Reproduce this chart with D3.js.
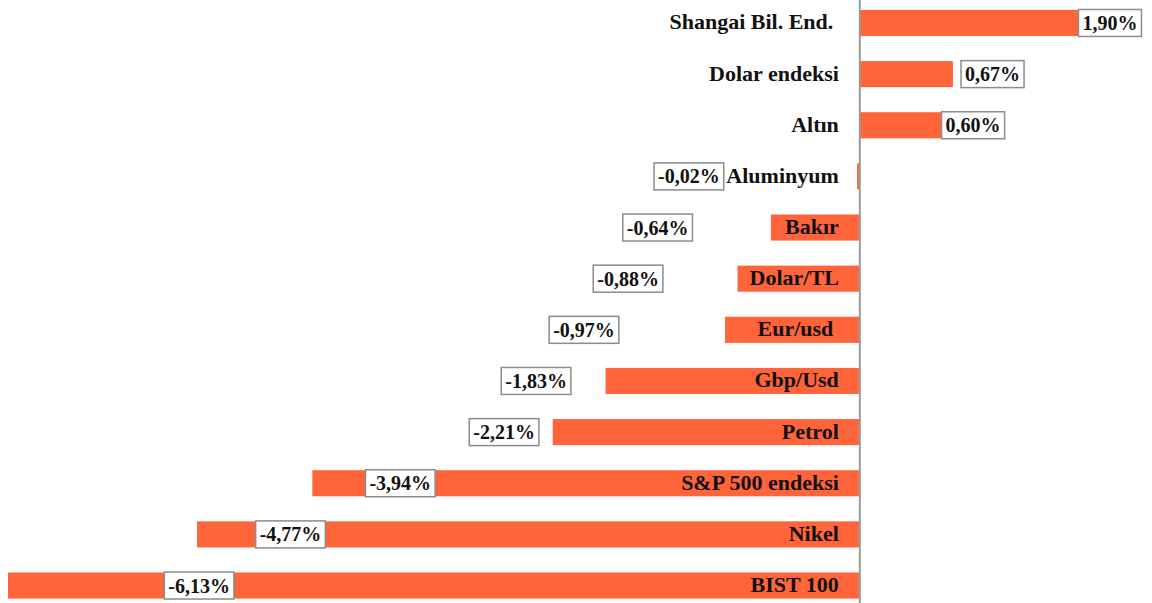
<!DOCTYPE html>
<html>
<head>
<meta charset="utf-8">
<script src="https://cdn.jsdelivr.net/npm/d3@7"></script>
<style>
  body { margin: 0; background: #fff; }
  svg { display: block; }
</style>
</head>
<body>
<svg id="chart"></svg>
<script>
// categories top to bottom
const categories = ["Shangai Bil. End.\u00a0", "Dolar endeksi", "Altın", "Aluminyum", "Bakır", "Dolar/TL",
  "Eur/usd\u00a0", "Gbp/Usd", "Petrol", "S&P 500 endeksi", "Nikel", "BIST 100"];
const values = [1.90, 0.67, 0.60, -0.02, -0.64, -0.88, -0.97, -1.83, -2.21, -3.94, -4.77, -6.13];
const valueLabels = ["1,90%", "0,67%", "0,60%", "-0,02%", "-0,64%", "-0,88%", "-0,97%", "-1,83%", "-2,21%", "-3,94%", "-4,77%", "-6,13%"];
// where the data labels were dragged to (in % units, label centre)
const labelAt = [1.80, 0.955, 0.815, -1.23, -1.455, -1.668, -1.985, -2.33, -2.56, -3.307, -4.097, -4.755];

class DivergingBars {

  constructor(_config) {
    this.config = {
      parentElement: _config.parentElement,
      containerWidth: _config.containerWidth || 1152,
      containerHeight: _config.containerHeight || 603
    }
    this.initVis();
  }

  initVis() {
    let vis = this;

    vis.svg = d3.select(vis.config.parentElement)
      .attr('width', vis.config.containerWidth)
      .attr('height', vis.config.containerHeight);

    // axis max is fixed in the original, so the top bar gets cut off
    vis.xScale = d3.scaleLinear()
      .domain([-6.13, 1.57])
      .range([8, 1078]);

    vis.yScale = d3.scaleBand()
      .domain(categories)
      .range([-2.6, 611.1])
      .paddingInner(0.49)
      .paddingOuter(0.245);

    vis.svg.append('clipPath')
      .attr('id', 'plot-clip')
      .append('rect')
      .attr('x', 0)
      .attr('y', 0)
      .attr('width', vis.xScale.range()[1])
      .attr('height', vis.config.containerHeight);

    vis.updateVis();
  }

  updateVis() {
    let vis = this;
    const rows = categories.map((c, i) => ({ cat: c, value: values[i], label: valueLabels[i], at: labelAt[i] }));
    const x0 = vis.xScale(0);

    vis.svg.append('g')
      .attr('clip-path', 'url(#plot-clip)')
      .selectAll('.bar')
      .data(rows)
      .join('rect')
        .attr('class', 'bar')
        .attr('x', d => vis.xScale(Math.min(0, d.value)))
        .attr('y', d => vis.yScale(d.cat))
        .attr('width', d => Math.abs(vis.xScale(d.value) - x0))
        .attr('height', vis.yScale.bandwidth())
        .attr('fill', '#ff643b');

    // zero line
    vis.svg.append('line')
      .attr('x1', x0).attr('x2', x0)
      .attr('y1', 0).attr('y2', vis.config.containerHeight)
      .attr('stroke', '#9a9a9a')
      .attr('stroke-width', 2);

    // category names sit left of the axis
    vis.svg.append('g')
      .selectAll('.cat')
      .data(rows)
      .join('text')
        .attr('class', 'cat')
        .attr('x', x0 - 21)
        .attr('y', d => vis.yScale(d.cat) + vis.yScale.bandwidth() / 2 + 6.5)
        .attr('text-anchor', 'end')
        .attr('font-family', '"Liberation Serif", "Times New Roman", serif')
        .attr('font-weight', 'bold')
        .style('font-size', '22px')
        .attr('fill', '#111')
        .text(d => d.cat);

    // boxed data labels
    const lab = vis.svg.append('g')
      .selectAll('.vlabel')
      .data(rows)
      .join('g')
        .attr('class', 'vlabel')
        .attr('transform', d => `translate(${vis.xScale(d.at)},${vis.yScale(d.cat) + vis.yScale.bandwidth() / 2})`);

    lab.append('rect')
      .attr('fill', '#fff')
      .attr('stroke', '#8c8c8c')
      .attr('stroke-width', 1.5);

    lab.append('text')
      .attr('y', 7)
      .attr('text-anchor', 'middle')
      .attr('font-family', '"Liberation Serif", "Times New Roman", serif')
      .attr('font-weight', 'bold')
      .style('font-size', '20px')
      .attr('fill', '#111')
      .text(d => d.label);

    lab.each(function() {
      const g = d3.select(this);
      const w = g.select('text').node().getComputedTextLength();
      g.select('rect')
        .attr('x', -w / 2 - 4)
        .attr('y', -13.5)
        .attr('width', w + 8)
        .attr('height', 27);
    });
  }
}

new DivergingBars({ parentElement: '#chart' });
</script>
</body>
</html>
